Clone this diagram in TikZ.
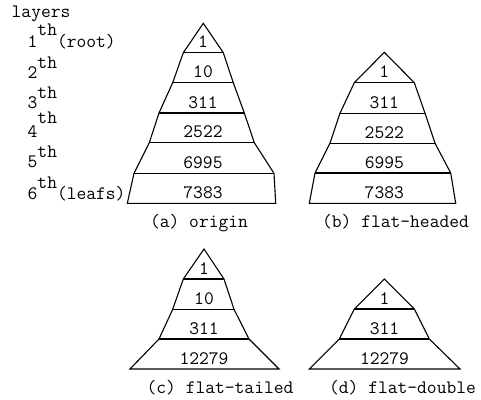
\documentclass[tikz,border=0pt]{standalone}
\newcommand\lblfont{\ttfamily\fontsize{19}{22}\selectfont}
\tikzset{
  pyr/.style={draw=black, line width=1.1pt, line join=miter},
  num/.style={anchor=base, font=\lblfont, inner sep=0pt},
  lbl/.style={anchor=base west, font=\lblfont, inner sep=0pt},
  captxt/.style={anchor=base, font=\lblfont, inner sep=0pt},
}
\begin{document}
\begin{tikzpicture}[x=1pt,y=-1pt]
\useasboundingbox (0,0) rectangle (481,399);
% ---------- left labels ----------
\node[lbl] (layers) at (11.5,17) {layers};
\node[lbl] (l1) at (27.5,47) {1\raisebox{12pt}{th}(root)};
\node[lbl] (l2) at (27.5,78) {2\raisebox{10pt}{th}};
\node[lbl] (l3) at (27.5,108) {3\raisebox{10pt}{th}};
\node[lbl] (l4) at (27.5,137) {4\raisebox{14pt}{th}};
\node[lbl] (l5) at (27.5,167) {5\raisebox{10pt}{th}};
\node[lbl] (l6) at (27.5,199) {6\raisebox{11pt}{th}(leafs)};
% ---------- (a) origin ----------
\coordinate (a0) at (203.3,23.3);
\coordinate (aL1) at (183.3,52.7);  \coordinate (aR1) at (223.3,52.7);
\coordinate (aL2) at (172.7,82.7);  \coordinate (aR2) at (233.3,82.7);
\coordinate (aL3) at (159,113);     \coordinate (aR3) at (244.3,113);
\coordinate (aL4) at (149.3,142.7); \coordinate (aR4) at (254.3,142.7);
\coordinate (aL5) at (134,173.3);   \coordinate (aR5) at (274,173.3);
\coordinate (aL6) at (127.3,203.3); \coordinate (aR6) at (275.7,203.3);
\draw[pyr] (a0) -- (aL1) -- (aL2) -- (aL3) -- (aL4) -- (aL5) -- (aL6) -- (aR6)
  -- (aR5) -- (aR4) -- (aR3) -- (aR2) -- (aR1) -- cycle;
\foreach \i in {1,...,5} \draw[pyr] (aL\i) -- (aR\i);
\node[num] (an1) at (203,47.7) {1};
\node[num] (an2) at (203,77.7) {10};
\node[num] (an3) at (203,108) {311};
\node[num] (an4) at (203,137.7) {2522};
\node[num] (an5) at (203,168.3) {6995};
\node[num] (an6) at (203,198.3) {7383};
\node[captxt] (capa) at (199,227) {(a) origin};
% ---------- (b) flat-headed ----------
\coordinate (b0) at (384.3,52.3);
\coordinate (bL1) at (354.3,82.7);  \coordinate (bR1) at (414.3,82.7);
\coordinate (bL2) at (340,113.2);   \coordinate (bR2) at (425,113.2);
\coordinate (bL3) at (330,143.2);   \coordinate (bR3) at (435,143.2);
\coordinate (bL4) at (315,173);     \coordinate (bR4) at (450.7,173);
\coordinate (bL5) at (309.3,203.3); \coordinate (bR5) at (455.7,203.3);
\draw[pyr] (b0) -- (bL1) -- (bL2) -- (bL3) -- (bL4) -- (bL5) -- (bR5)
  -- (bR4) -- (bR3) -- (bR2) -- (bR1) -- cycle;
\foreach \i in {1,...,4} \draw[pyr] (bL\i) -- (bR\i);
\node[num] (bn1) at (384.3,77.7) {1};
\node[num] (bn2) at (384.3,108.2) {311};
\node[num] (bn3) at (384.3,138.2) {2522};
\node[num] (bn4) at (384.3,168) {6995};
\node[num] (bn5) at (384.3,198.3) {7383};
\node[captxt] (capb) at (395.5,227) {(b) flat-headed};
% ---------- (c) flat-tailed ----------
\coordinate (c0) at (204,249);
\coordinate (cL1) at (183.3,279);   \coordinate (cR1) at (224,279);
\coordinate (cL2) at (172.7,309.3); \coordinate (cR2) at (234,309.3);
\coordinate (cL3) at (159,339);     \coordinate (cR3) at (249,339);
\coordinate (cL4) at (130,369);     \coordinate (cR4) at (279,369);
\draw[pyr] (c0) -- (cL1) -- (cL2) -- (cL3) -- (cL4) -- (cR4)
  -- (cR3) -- (cR2) -- (cR1) -- cycle;
\foreach \i in {1,...,3} \draw[pyr] (cL\i) -- (cR\i);
\node[num] (cn1) at (204,274) {1};
\node[num] (cn2) at (204,304.3) {10};
\node[num] (cn3) at (204,334) {311};
\node[num] (cn4) at (204,364) {12279};
\node[captxt] (capc) at (220,393) {(c) flat-tailed};
% ---------- (d) flat-double ----------
\coordinate (d0) at (384.3,279);
\coordinate (dL1) at (354.3,309);   \coordinate (dR1) at (414.3,309);
\coordinate (dL2) at (339.3,339);   \coordinate (dR2) at (429.3,339);
\coordinate (dL3) at (309.3,369);   \coordinate (dR3) at (460,369);
\draw[pyr] (d0) -- (dL1) -- (dL2) -- (dL3) -- (dR3)
  -- (dR2) -- (dR1) -- cycle;
\foreach \i in {1,2} \draw[pyr] (dL\i) -- (dR\i);
\node[num] (dn1) at (384.5,304) {1};
\node[num] (dn2) at (384.5,334) {311};
\node[num] (dn3) at (384.5,364) {12279};
\node[captxt] (capd) at (402.5,393) {(d) flat-double};
\end{tikzpicture}
\end{document}
